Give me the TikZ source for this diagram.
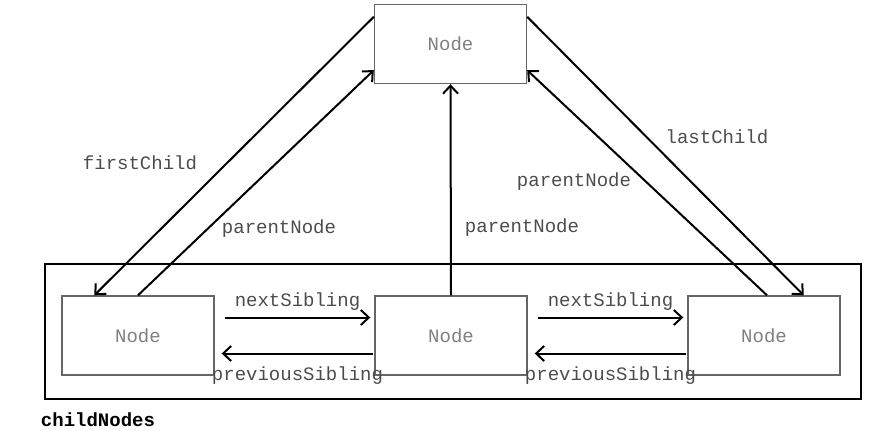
\documentclass[tikz,border=0pt]{standalone}
\usepackage{fontspec}
\setmonofont{Liberation Mono}
\usetikzlibrary{arrows.meta}

\tikzset{
  dom/.style={draw=black!60, line width=1.4pt, minimum width=152pt, minimum height=79pt,
    font=\ttfamily\fontsize{19}{22}\selectfont, text=black!50},
  lbl/.style={font=\ttfamily\fontsize{19}{22}\selectfont, text=black!70, inner sep=0pt},
  ptr/.style={line width=2pt, -{Straight Barb[length=8pt,width=15pt,line width=2pt]}},
}

\begin{document}
\begin{tikzpicture}[x=1pt,y=-1pt]
\useasboundingbox (0,0) rectangle (873,431);
% childNodes frame
\draw[line width=2.8pt] (45,264) rectangle (861,399);
\node[font=\ttfamily\bfseries\fontsize{19}{22}\selectfont, inner sep=0pt] (kids) at (98,420) {childNodes};
% the nodes
\node[dom] (top) at (450.5,44) {Node};
\node[dom] (left) at (138,335.5) {Node};
\node[dom] (mid) at (451,335.5) {Node};
\node[dom] (right) at (764,335.5) {Node};
% parent / child pointers
\draw[ptr] ([yshift=-13pt]top.north west) -- ([xshift=33pt]left.north west);
\draw[ptr] (left.north) -- ([yshift=14pt]top.south west);
\draw[ptr] (mid.north) -- (top.south);
\draw[ptr] ([yshift=-13pt]top.north east) -- ([xshift=-37pt]right.north east);
\draw[ptr] ([xshift=3pt]right.north) -- ([yshift=14pt]top.south east);
\node[lbl] (first) at (140,163) {firstChild};
\node[lbl] (upl) at (279,229) {parentNode};
\node[lbl] (upm) at (522,228) {parentNode};
\node[lbl] (upr) at (574,182) {parentNode};
\node[lbl] (last) at (717,137) {lastChild};
% sibling pointers
\foreach \a/\b in {left/mid, mid/right} {
 \draw[ptr] ([xshift=10pt,yshift=18pt]\a.east) -- ([xshift=-4pt,yshift=18pt]\b.west)
   node[lbl, midway, above=6pt] {nextSibling};
 \draw[ptr] ([xshift=-1pt,yshift=-18pt]\b.west) -- ([xshift=7pt,yshift=-18pt]\a.east)
   node[lbl, midway, below=12pt] {previousSibling};
}
\end{tikzpicture}
\end{document}
